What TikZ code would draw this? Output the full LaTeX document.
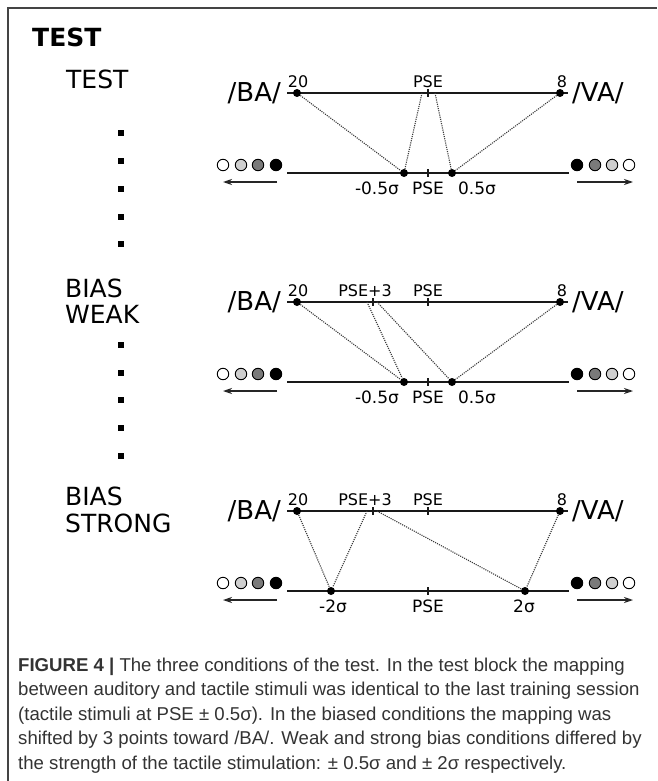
\documentclass[tikz,border=0pt]{standalone}
\usepackage{fontspec}
\setmainfont{Liberation Sans}
\newfontfamily\djv{DejaVu Sans}
\usetikzlibrary{arrows.meta}
\definecolor{framecol}{HTML}{444444}
\definecolor{capcol}{HTML}{333333}
\definecolor{lgray}{HTML}{CFCFCF}
\definecolor{mgray}{HTML}{7A7A7A}
\definecolor{dotcol}{HTML}{3A3A3A}
\tikzset{
  mainline/.style={line width=1.5pt, draw=black!90},
  dotline/.style={line width=1.1pt, draw=dotcol, dash pattern=on 1.1pt off 1.1pt},
  bigtxt/.style={inner sep=0pt, font=\djv\fontsize{26}{28}\selectfont},
  lbltxt/.style={inner sep=0pt, font=\djv\fontsize{25}{27}\selectfont},
  toptxt/.style={inner sep=0pt, font=\djv\fontsize{16}{18}\selectfont},
  bottxt/.style={inner sep=0pt, font=\djv\fontsize{17}{19}\selectfont},
  blackdot/.style={circle, fill=black, inner sep=0pt, minimum size=8pt},
  stim/.style={circle, draw=black, line width=0.9pt, inner sep=0pt, minimum size=11.5pt},
  sqdot/.style={rectangle, fill=black, inner sep=0pt, minimum size=6pt},
  arr/.style={line width=1.3pt, draw=black!85, -{Stealth[length=9pt,width=6pt]}},
  captxt/.style={inner sep=0pt, anchor=base west, text=capcol, font=\fontsize{18.6}{25}\selectfont},
}
% #1 prefix, #2 y of upper line
\newcommand{\scalerow}[2]{%
  \coordinate (#1tl) at (287,#2);
  \coordinate (#1tr) at (568,#2);
  \coordinate (#1bl) at (287,#2+80);
  \coordinate (#1br) at (569,#2+80);
  \draw[mainline] (#1tl) -- (#1tr);
  \draw[mainline] (#1bl) -- (#1br);
  \draw[mainline] (428,#2-4) -- (428,#2+4);
  \draw[mainline] (428,#2+76) -- (428,#2+84);
  \node[bigtxt, anchor=east] (#1ba) at (281,#2) {/BA/};
  \node[bigtxt, anchor=west] (#1va) at (572,#2) {/VA/};
  \node[blackdot] (#1d20) at (297,#2) {};
  \node[blackdot] (#1d8) at (560,#2) {};
  \node[toptxt] (#1l20) at (298,#2-11) {20};
  \node[toptxt] (#1l8) at (562,#2-11) {8};
  \node[toptxt] (#1lpse) at (428,#2-11) {PSE};
  \node[bottxt] (#1bpse) at (428,#2+95) {PSE};
  \node[stim, fill=white] (#1c1) at (223,#2+72) {};
  \node[stim, fill=lgray] (#1c2) at (241,#2+72) {};
  \node[stim, fill=mgray] (#1c3) at (258,#2+72) {};
  \node[stim, fill=black] (#1c4) at (276,#2+72) {};
  \node[stim, fill=black] (#1c5) at (577,#2+72) {};
  \node[stim, fill=mgray] (#1c6) at (595,#2+72) {};
  \node[stim, fill=lgray] (#1c7) at (612,#2+72) {};
  \node[stim, fill=white] (#1c8) at (629,#2+72) {};
  \coordinate (#1a1) at (277,#2+89);
  \coordinate (#1a2) at (223,#2+89);
  \coordinate (#1a3) at (577,#2+89);
  \coordinate (#1a4) at (633,#2+89);
  \draw[arr] (#1a1) -- (#1a2);
  \draw[arr] (#1a3) -- (#1a4);
}
\begin{document}
\begin{tikzpicture}[x=1pt, y=-1pt]
\useasboundingbox (0,0) rectangle (657,781);
\fill[white] (0,0) rectangle (657,781);
\draw[framecol, line width=1.6pt] (8,781) -- (8,8) -- (657,8);

% left labels
\node[lbltxt, anchor=base west, font=\djv\bfseries\fontsize{25}{27}\selectfont] (head) at (32,47) {TEST};
\node[lbltxt, anchor=base west] (ltest) at (66,89) {TEST};
\node[lbltxt, anchor=base west] (lbias1) at (65,297) {BIAS};
\node[lbltxt, anchor=base west] (lweak) at (65,323) {WEAK};
\node[lbltxt, anchor=base west] (lbias2) at (65,505) {BIAS};
\node[lbltxt, anchor=base west] (lstrong) at (65,532) {STRONG};
\foreach \yy [count=\i] in {133,161,189,217,244,345,373,400,428,456}
  \node[sqdot] (sq\i) at (120.7,\yy) {};

% row 1: TEST
\scalerow{A}{93}
\node[blackdot] (Am) at (404,173) {};
\node[blackdot] (Ap) at (452,173) {};
\coordinate (Apl) at (422,93);
\coordinate (Apr) at (435,93);
\node[bottxt] (Alm) at (377,188) {-0.5σ};
\node[bottxt] (Alp) at (477,188) {0.5σ};
\draw[dotline] (Ad20) -- (Am);
\draw[dotline] (Apl) -- (Am);
\draw[dotline] (Apr) -- (Ap);
\draw[dotline] (Ad8) -- (Ap);

% row 2: BIAS WEAK
\scalerow{B}{302}
\draw[mainline] (373,298) -- (373,306);
\node[toptxt] (Bl3) at (365,291) {PSE+3};
\node[blackdot] (Bm) at (404,382) {};
\node[blackdot] (Bp) at (452,382) {};
\coordinate (Bpl) at (367,302);
\coordinate (Bpr) at (377,302);
\node[bottxt] (Blm) at (377,397) {-0.5σ};
\node[bottxt] (Blp) at (477,397) {0.5σ};
\draw[dotline] (Bd20) -- (Bm);
\draw[dotline] (Bpl) -- (Bm);
\draw[dotline] (Bpr) -- (Bp);
\draw[dotline] (Bd8) -- (Bp);

% row 3: BIAS STRONG
\scalerow{C}{511}
\draw[mainline] (373,507) -- (373,515);
\node[toptxt] (Cl3) at (365,500) {PSE+3};
\node[blackdot] (Cm) at (331,591) {};
\node[blackdot] (Cp) at (525,591) {};
\coordinate (Cpl) at (367,511);
\coordinate (Cpr) at (377,511);
\node[bottxt] (Clm) at (333,606) {-2σ};
\node[bottxt] (Clp) at (524,606) {2σ};
\draw[dotline] (Cd20) -- (Cm);
\draw[dotline] (Cpl) -- (Cm);
\draw[dotline] (Cpr) -- (Cp);
\draw[dotline] (Cd8) -- (Cp);

% caption
\node[captxt] (cap1) at (18,671) {\textbf{FIGURE 4 |} The three conditions of the test. In the test block the mapping};
\node[captxt] (cap2) at (18,695.5) {between auditory and tactile stimuli was identical to the last training session};
\node[captxt] (cap3) at (18,720) {(tactile stimuli at PSE ± 0.5σ). In the biased conditions the mapping was};
\node[captxt] (cap4) at (18,744.5) {shifted by 3 points toward /BA/. Weak and strong bias conditions differed by};
\node[captxt] (cap5) at (18,769) {the strength of the tactile stimulation: ± 0.5σ and ± 2σ respectively.};
\end{tikzpicture}
\end{document}
